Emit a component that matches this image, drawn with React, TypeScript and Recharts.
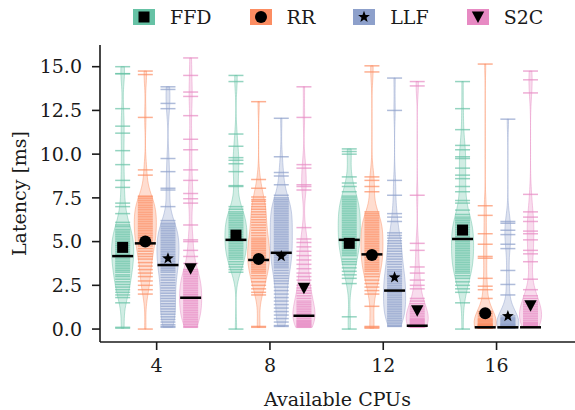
import React from "react"
import { ComposedChart, Scatter, XAxis, YAxis, Label } from "recharts"

const FONT = '"DejaVu Serif", serif'
const INK = "#1a1a1a"

const CPUS = [4, 8, 12, 16]
const POLICIES = ["FFD", "RR", "LLF", "S2C"]
const COLORS = ["#66c2a5", "#fc8d62", "#8da0cb", "#e78ac3"]
const OFFSETS = [-1.2, -0.4, 0.4, 1.2] // violin position inside a cpu group
const Y_TICKS = [0, 2.5, 5, 7.5, 10, 12.5, 15]

// latency samples (ms)
const FFD_4 = [15.0, 14.6, 14.6, 12.6, 11.6, 11.2, 10.2, 9.4, 8.5, 8.1, 7.2, 7.0, 6.6,
    6.1, 5.95, 5.85, 5.7, 5.6, 5.5, 5.4, 5.3, 5.2, 5.1, 5.0, 4.9, 4.8, 4.75, 4.65, 4.55, 4.45, 4.35, 4.25, 4.15, 4.05,
    3.95, 3.85, 3.75, 3.65, 3.55, 3.45, 3.35, 3.25, 3.1, 3.0, 2.85, 2.7, 2.55, 2.4, 2.25, 2.1, 1.95, 1.8, 1.5, 0.1, 0.05]
const FFD_8 = [14.5, 14.15, 11.15, 10.45, 9.8, 9.65, 9.45, 9.0, 8.2, 8.15,
    7.0, 6.85, 6.7, 6.6, 6.5, 6.4, 6.3, 6.2, 6.1, 6.0, 5.9, 5.8, 5.7, 5.6, 5.5, 5.4, 5.3, 5.2, 5.1, 5.0, 4.9, 4.8, 4.7,
    4.6, 4.5, 4.4, 4.3, 4.2, 4.1, 4.0, 3.85, 3.7, 3.55, 3.4, 3.25, 0.0]
const FFD_12 = [10.3, 10.15, 10.0, 8.7, 8.35, 8.15, 7.85,
    7.6, 7.5, 7.4, 7.3, 7.2, 7.1, 7.0, 6.9, 6.8, 6.7, 6.6, 6.5, 6.4, 6.3, 6.2, 6.1, 6.0, 5.9, 5.8, 5.7, 5.6, 5.5, 5.4,
    5.3, 5.2, 5.1, 5.0, 4.9, 4.8, 4.7, 4.6, 4.5, 4.4, 4.3, 4.2, 4.0, 3.85, 3.7, 3.5, 3.3, 3.1, 2.9, 2.6, 0.7, 0.0]
const FFD_16 = [14.15, 12.6, 11.4, 10.5, 10.25, 9.85, 9.75, 9.2, 8.8, 8.6, 8.15, 7.85, 7.35, 7.2, 6.8,
    6.55, 6.4, 6.3, 6.2, 6.1, 6.0, 5.9, 5.8, 5.7, 5.6, 5.5, 5.4, 5.3, 5.2, 5.1, 5.0, 4.9, 4.8, 4.7, 4.6, 4.5, 4.4, 4.3,
    4.2, 4.1, 4.0, 3.9, 3.8, 3.7, 3.6, 3.5, 3.4, 3.3, 3.2, 3.05, 2.9, 2.7, 2.5, 2.3, 2.1, 1.5, 0.0]

const RR_4 = [14.75, 14.55, 12.1, 9.1, 8.8,
    7.6, 7.55, 7.45, 7.35, 7.25, 7.15, 7.05, 6.95, 6.85, 6.75, 6.65, 6.55, 6.45, 6.35, 6.25, 6.15, 6.05, 5.95, 5.85,
    5.75, 5.65, 5.55, 5.45, 5.35, 5.25, 5.15, 5.05, 4.95, 4.85, 4.75, 4.6, 4.45, 4.3, 4.15, 4.0, 3.8, 3.6, 3.4, 3.2,
    3.0, 2.75, 2.5, 2.25, 2.0, 0.0]
const RR_8 = [13.0, 8.55, 8.05,
    7.55, 7.4, 7.3, 7.15, 7.0, 6.85, 6.7, 6.55, 6.4, 6.25, 6.1, 5.95, 5.8, 5.65, 5.5, 5.35, 5.2, 5.1, 5.0, 4.9, 4.8,
    4.7, 4.6, 4.5, 4.4, 4.3, 4.2, 4.1, 4.0, 3.9, 3.8, 3.7, 3.6, 3.5, 3.4, 3.3, 3.2, 3.05, 2.9, 2.7, 2.5, 2.3, 2.1,
    1.95, 0.15, 0.1]
const RR_12 = [15.05, 14.7, 8.7, 8.5, 8.15, 7.85,
    6.7, 6.6, 6.5, 6.4, 6.3, 6.2, 6.1, 6.0, 5.9, 5.8, 5.7, 5.6, 5.5, 5.4, 5.3, 5.2, 5.1, 5.0, 4.9, 4.8, 4.7, 4.6, 4.5,
    4.4, 4.3, 4.2, 4.1, 4.0, 3.9, 3.8, 3.7, 3.6, 3.5, 3.4, 3.3, 3.15, 3.0, 2.8, 2.6, 2.4, 2.2, 2.0, 1.3, 0.15, 0.1, 0.05]
const RR_16 = [15.15, 7.05, 6.5, 5.45, 4.85, 4.15, 4.05, 2.9, 2.45, 2.25, 1.75,
    1.0, 0.9, 0.8, 0.7, 0.6, 0.55, 0.5, 0.45, 0.4, 0.35, 0.3, 0.28, 0.25, 0.22, 0.2, 0.18, 0.15, 0.13, 0.1, 0.08, 0.06, 0.05]

const LLF_4 = [13.85, 13.7, 12.9, 12.6, 9.75, 9.0, 8.05, 7.95, 7.0,
    6.2, 6.05, 5.95, 5.85, 5.75, 5.65, 5.55, 5.45, 5.35, 5.25, 5.15, 5.05, 4.95, 4.85, 4.75, 4.65, 4.55, 4.45, 4.35,
    4.25, 4.15, 4.05, 3.95, 3.85, 3.75, 3.65, 3.55, 3.45, 3.35, 3.25, 3.1, 2.95, 2.8, 2.65, 2.5, 2.35, 2.2, 2.05, 1.9,
    1.75, 1.6, 1.45, 1.3, 1.15, 1.0, 0.85, 0.7, 0.55, 0.4, 0.25, 0.15, 0.1]
const LLF_8 = [12.05, 9.85, 8.95, 8.75, 8.25,
    7.65, 7.5, 7.4, 7.3, 7.2, 7.1, 7.0, 6.9, 6.8, 6.7, 6.6, 6.5, 6.4, 6.3, 6.2, 6.1, 6.0, 5.9, 5.8, 5.7, 5.6, 5.5, 5.4,
    5.3, 5.2, 5.1, 5.0, 4.9, 4.8, 4.7, 4.6, 4.5, 4.4, 4.3, 4.2, 4.1, 4.0, 3.9, 3.8, 3.7, 3.6, 3.5, 3.35, 3.2, 3.05,
    2.9, 2.75, 2.6, 2.4, 2.2, 2.0, 1.8, 1.6, 1.4, 1.2, 1.0, 0.8, 0.6, 0.4, 0.2, 0.15]
const LLF_12 = [14.35, 12.5, 8.5, 7.65, 6.6, 6.4, 6.15,
    5.5, 5.35, 5.2, 5.05, 4.9, 4.75, 4.6, 4.45, 4.3, 4.15, 4.0, 3.85, 3.7, 3.55, 3.4, 3.3, 3.2, 3.1, 3.0, 2.9, 2.8,
    2.7, 2.6, 2.5, 2.4, 2.3, 2.2, 2.1, 2.0, 1.9, 1.8, 1.7, 1.6, 1.5, 1.4, 1.3, 1.2, 1.1, 1.0, 0.9, 0.8, 0.7, 0.6,
    0.5, 0.4, 0.3, 0.2, 0.15]
const LLF_16 = [12.0, 6.15, 6.05, 5.65, 5.4, 4.85, 4.6, 3.35, 2.55, 1.95,
    0.75, 0.65, 0.6, 0.55, 0.5, 0.45, 0.4, 0.35, 0.3, 0.27, 0.24, 0.2, 0.17, 0.14, 0.1, 0.08, 0.05]

const S2C_4 = [15.5, 14.5, 13.55, 13.3, 12.2, 10.85, 10.25, 9.1, 8.5, 7.75, 7.45, 7.2, 5.95, 5.1, 5.0, 4.5, 4.15, 3.75,
    3.4, 3.3, 3.2, 3.1, 3.0, 2.9, 2.8, 2.7, 2.6, 2.5, 2.4, 2.3, 2.2, 2.1, 2.0, 1.95, 1.85, 1.75, 1.65, 1.55, 1.45,
    1.35, 1.25, 1.15, 1.05, 0.95, 0.85, 0.75, 0.65, 0.55, 0.45, 0.35, 0.25, 0.15, 0.1]
const S2C_8 = [13.85, 12.1, 9.4, 9.2, 8.25, 8.15, 7.95, 5.8, 5.15, 4.95, 4.7, 4.45, 4.2, 3.95, 3.7, 3.45, 3.2, 3.0, 2.8,
    2.5, 2.35, 2.2, 2.05, 1.9, 1.75, 1.6, 1.5, 1.4, 1.3, 1.2, 1.1, 1.0, 0.9, 0.8, 0.7, 0.6, 0.5, 0.45, 0.4, 0.35, 0.3,
    0.25, 0.2, 0.15, 0.1]
const S2C_12 = [14.15, 13.9, 7.65, 4.9, 4.5, 3.55, 3.2, 2.8, 2.5, 2.3,
    1.75, 1.6, 1.45, 1.3, 1.2, 1.1, 1.0, 0.9, 0.8, 0.7, 0.6, 0.55, 0.5, 0.45, 0.4, 0.35, 0.3, 0.27, 0.24, 0.2, 0.17,
    0.14, 0.1]
const S2C_16 = [14.75, 14.25, 13.5, 7.7, 6.7, 6.4, 6.15, 5.6, 5.45, 5.1, 4.5, 4.3, 3.85, 2.85, 2.25,
    1.9, 1.75, 1.6, 1.5, 1.4, 1.3, 1.2, 1.1, 1.0, 0.9, 0.8, 0.7, 0.6, 0.5, 0.4, 0.35, 0.3, 0.25, 0.2, 0.15, 0.1]

// mean (marker) and median (black bar) per cpu count
const MEAN_FFD = [4.67, 5.37, 4.9, 5.66]
const MEAN_RR = [5.0, 4.0, 4.23, 0.9]
const MEAN_LLF = [4.04, 4.17, 2.95, 0.74]
const MEAN_S2C = [3.45, 2.33, 1.05, 1.33]
const MEDIAN_FFD = [4.17, 5.1, 5.1, 5.15]
const MEDIAN_RR = [4.9, 3.95, 4.27, 0.1]
const MEDIAN_LLF = [3.66, 4.36, 2.2, 0.1]
const MEDIAN_S2C = [1.79, 0.76, 0.19, 0.1]

const SAMPLES = [
    [FFD_4, FFD_8, FFD_12, FFD_16],
    [RR_4, RR_8, RR_12, RR_16],
    [LLF_4, LLF_8, LLF_12, LLF_16],
    [S2C_4, S2C_8, S2C_12, S2C_16],
]
const MEANS = [MEAN_FFD, MEAN_RR, MEAN_LLF, MEAN_S2C]
const MEDIANS = [MEDIAN_FFD, MEDIAN_RR, MEDIAN_LLF, MEDIAN_S2C]

const X_DOMAIN = [2, 18.77]
const Y_DOMAIN = [-0.74, 16.24]

// gaussian kde outline, cut at the data range, scaled so every violin has the same max width
function violinOutline(samples: number[], center: number, bw = 0.7, half = 0.39, steps = 80) {
    const lo = Math.min(...samples)
    const hi = Math.max(...samples)
    const ys: number[] = []
    const ds: number[] = []
    for (let i = 0; i <= steps; i++) {
        const y = lo + ((hi - lo) * i) / steps
        let d = 0
        for (const s of samples) d += Math.exp(-0.5 * ((y - s) / bw) ** 2)
        ys.push(y)
        ds.push(d)
    }
    const max = Math.max(...ds)
    const left = ys.map((y, i) => ({ x: center - (half * ds[i]) / max, y }))
    const right = ys.map((y, i) => ({ x: center + (half * ds[i]) / max, y })).reverse()
    return [...left, ...right]
}

const violins = SAMPLES.flatMap((rows, p) =>
    rows.map((s, c) => ({ key: `${p}-${c}`, color: COLORS[p], data: violinOutline(s, CPUS[c] + OFFSETS[p]) }))
)
const rugs = SAMPLES.map((rows, p) => rows.flatMap((s, c) => s.map(v => ({ x: CPUS[c] + OFFSETS[p], y: v }))))
const means = MEANS.map((row, p) => row.map((v, c) => ({ x: CPUS[c] + OFFSETS[p], y: v })))
const medians = MEDIANS.flatMap((row, p) => row.map((v, c) => ({ x: CPUS[c] + OFFSETS[p], y: v })))

const violinLine = (color: string) => (props: any) => {
    const pts = props.points || []
    if (!pts.length) return <g />
    const d = pts.map((pt: any, i: number) => `${i ? "L" : "M"}${pt.x},${pt.y}`).join("") + "Z"
    return <path d={d} fill={color} fillOpacity={0.3} stroke={color} strokeOpacity={0.45} strokeWidth={1} />
}

const rugShape = (color: string) => (p: any) => (
    <line x1={p.cx - 7.5} x2={p.cx + 7.5} y1={p.cy} y2={p.cy} stroke={color} strokeOpacity={0.7} strokeWidth={1.5} />
)

const medianShape = (p: any) => <line x1={p.cx - 10.5} x2={p.cx + 10.5} y1={p.cy} y2={p.cy} stroke="#000" strokeWidth={2.5} />

function Marker({ kind, cx, cy, fill = "#000" }: { kind: number, cx: number, cy: number, fill?: string }) {
    if (kind === 0) return <rect x={cx - 5.5} y={cy - 5.5} width={11} height={11} fill={fill} />
    if (kind === 1) return <circle cx={cx} cy={cy} r={6} fill={fill} />
    if (kind === 2) {
        const pts: string[] = []
        for (let i = 0; i < 10; i++) {
            const r = i % 2 ? 2.6 : 6.2
            const a = -Math.PI / 2 + (i * Math.PI) / 5
            pts.push(`${cx + r * Math.cos(a)},${cy + r * Math.sin(a)}`)
        }
        return <polygon points={pts.join(" ")} fill={fill} />
    }
    return <polygon points={`${cx - 6.2},${cy - 5.5} ${cx + 6.2},${cy - 5.5} ${cx},${cy + 6}`} fill={fill} />
}

const meanShape = (kind: number) => (p: any) => <Marker kind={kind} cx={p.cx} cy={p.cy} />

function ChartLegend() {
    return (
        <div style={{ position: "absolute", left: 133, top: 9, display: "flex", alignItems: "center", fontFamily: FONT, fontSize: 19, color: INK }}>
            {POLICIES.map((name, i) => (
                <div key={name} style={{ display: "flex", alignItems: "center", marginRight: 38 }}>
                    <svg width={22} height={16} style={{ display: "block" }}>
                        <rect x={0} y={0} width={22} height={16} fill={COLORS[i]} />
                        <Marker kind={i} cx={11} cy={8} />
                    </svg>
                    <span style={{ marginLeft: 15, lineHeight: "16px" }}>{name}</span>
                </div>
            ))}
        </div>
    )
}

export default function App() {
    const tickStyle = { fontFamily: FONT, fontSize: 19, fill: INK }
    return (
        <div style={{ position: "absolute", left: 0, top: 0, width: 575, height: 410, background: "#fff" }}>
            <ChartLegend />
            <ComposedChart width={575} height={410} margin={{ top: 45, right: 0, bottom: 0, left: 0 }}>
                <XAxis
                    type="number" dataKey="x" domain={X_DOMAIN} allowDataOverflow ticks={CPUS}
                    height={68} tickSize={8} tickMargin={9} stroke={INK} strokeWidth={1.6}
                    tick={tickStyle} tickLine={{ stroke: INK, strokeWidth: 1.6 }}
                >
                    <Label value="Available CPUs" position="insideBottom" offset={4} style={{ fontFamily: FONT, fontSize: 19, fill: INK }} />
                </XAxis>
                <XAxis xAxisId="top" orientation="top" type="number" domain={X_DOMAIN} allowDataOverflow height={0} tick={false} tickLine={false} stroke={INK} strokeWidth={1.6} />
                <YAxis
                    type="number" dataKey="y" domain={Y_DOMAIN} allowDataOverflow ticks={Y_TICKS}
                    width={100} tickSize={8} tickMargin={10} stroke={INK} strokeWidth={1.6}
                    tick={tickStyle} tickLine={{ stroke: INK, strokeWidth: 1.6 }}
                    tickFormatter={(v: number) => v.toFixed(1)}
                >
                    <Label
                        content={({ viewBox }: any) => {
                            const x = viewBox.x + 19
                            const y = viewBox.y + viewBox.height / 2
                            return (
                                <text x={x} y={y} transform={`rotate(-90, ${x}, ${y})`} textAnchor="middle" dominantBaseline="central"
                                    style={{ fontFamily: FONT, fontSize: 19, fill: INK }}>
                                    Latency [ms]
                                </text>
                            )
                        }}
                    />
                </YAxis>

                {violins.map(v => (
                    <Scatter key={v.key} data={v.data} line={violinLine(v.color)} lineType="joint" shape={() => <g />} isAnimationActive={false} />
                ))}
                {rugs.map((data, p) => (
                    <Scatter key={`rug-${p}`} data={data} shape={rugShape(COLORS[p])} isAnimationActive={false} />
                ))}
                <Scatter data={medians} shape={medianShape} isAnimationActive={false} />
                {means.map((data, p) => (
                    <Scatter key={`mean-${p}`} name={POLICIES[p]} data={data} shape={meanShape(p)} isAnimationActive={false} />
                ))}
            </ComposedChart>
        </div>
    )
}
